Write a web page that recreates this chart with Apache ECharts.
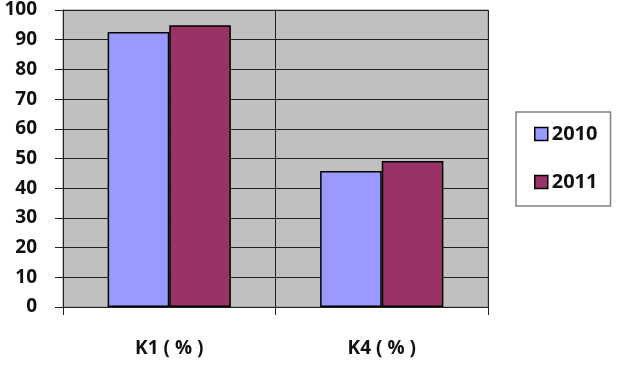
<!DOCTYPE html>
<html>
<head>
<meta charset="utf-8">
<script src="https://cdn.jsdelivr.net/npm/echarts@6/dist/echarts.min.js"></script>
<style>
  html, body { margin: 0; padding: 0; background: #fff; }
  #chart { width: 638px; height: 372px; }
</style>
</head>
<body>
<div id="chart"></div>
<script>
var categories = ['K1 ( % )', 'K4 ( % )']
var seriesNames = ['2010', '2011']
var values2010 = [92.6, 45.8]
var values2011 = [94.9, 49.2]
var seriesColors = ['#9999FF', '#993366']

var chart = echarts.init(document.getElementById('chart'))
var font = '"Open Sans", Lato, sans-serif'

chart.setOption({
  animation: false,
  textStyle: { fontFamily: font },
  grid: {
    left: 63,
    top: 10,
    width: 425,
    height: 297,
    show: true,
    backgroundColor: '#C0C0C0',
    borderColor: '#8a8a8a',
    borderWidth: 1
  },
  legend: {
    orient: 'vertical',
    left: 516,
    top: 112,
    padding: [12, 13, 14, 18],
    itemGap: 28,
    itemWidth: 13,
    itemHeight: 13,
    borderColor: '#808080',
    borderWidth: 1.5,
    data: seriesNames.map(function (n) {
      return { name: n, icon: 'rect', itemStyle: { borderColor: '#000', borderWidth: 1.5 } }
    }),
    textStyle: { fontFamily: font, fontWeight: 'bold', fontSize: 20, lineHeight: 20, color: '#111', padding: [0, 0, 0, -1] }
  },
  xAxis: {
    type: 'category',
    data: categories,
    axisLine: { show: true, lineStyle: { color: '#222', width: 1 } },
    axisTick: { show: true, length: 8, lineStyle: { color: '#222' } },
    splitLine: { show: true, lineStyle: { color: '#222', width: 1 } },
    axisLabel: { margin: 32, fontFamily: font, fontWeight: 'bold', fontSize: 19, color: '#111' }
  },
  yAxis: {
    type: 'value',
    min: 0,
    max: 100,
    interval: 10,
    axisLine: { show: true, lineStyle: { color: '#222', width: 1 } },
    axisTick: { show: true, length: 8, lineStyle: { color: '#222' } },
    splitLine: { show: true, lineStyle: { color: '#222', width: 1 } },
    axisLabel: { margin: 26, fontFamily: font, fontWeight: 'bold', fontSize: 19, color: '#111' }
  },
  series: [
    {
      name: seriesNames[0],
      type: 'bar',
      data: values2010,
      barWidth: '29%',
      barGap: '0%',
      itemStyle: { color: seriesColors[0], borderColor: '#000', borderWidth: 1.5 }
    },
    {
      name: seriesNames[1],
      type: 'bar',
      data: values2011,
      barWidth: '29%',
      barGap: '0%',
      itemStyle: { color: seriesColors[1], borderColor: '#000', borderWidth: 1.5 }
    }
  ]
})
</script>
</body>
</html>
